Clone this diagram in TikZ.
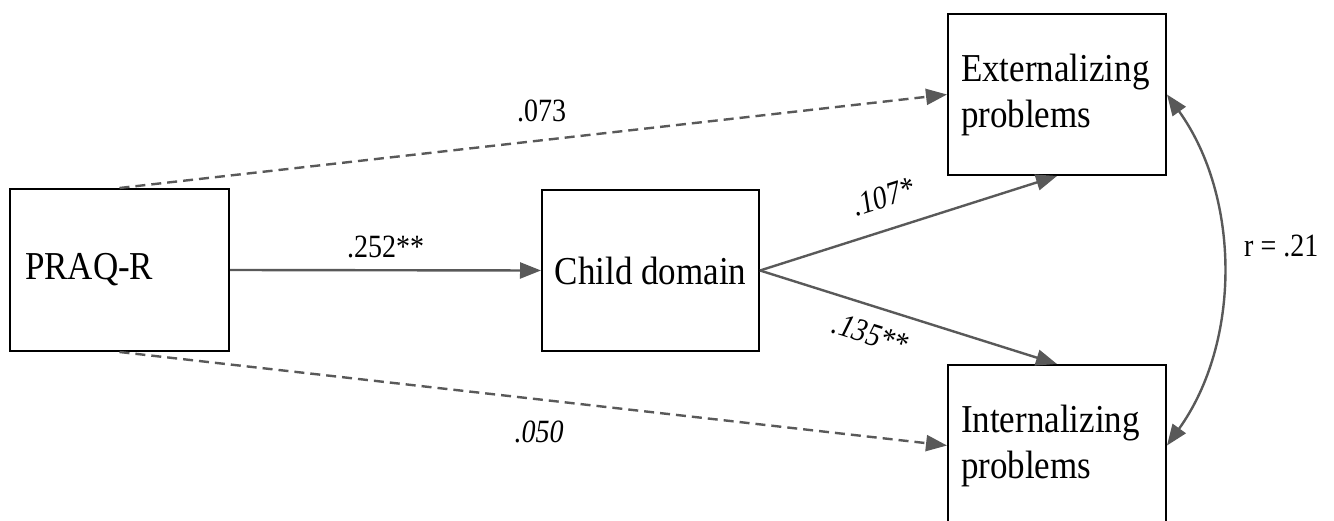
\documentclass[tikz,border=0pt]{standalone}
\usepackage{graphicx}
\usepackage{fontspec}
\setmainfont{Liberation Serif}
\usetikzlibrary{arrows.meta}
\definecolor{edgegray}{RGB}{89,89,89}
% slightly tall lettering for box texts and path labels
\newcommand\boxtxt[1]{\scalebox{1}[1.13]{#1}}
\newcommand\labtxt[1]{\scalebox{1}[1.16]{#1}}
\begin{document}
\begin{tikzpicture}[x=1pt,y=-1pt,
  var/.style={draw=black, line width=2pt, minimum width=218pt, minimum height=161pt,
    inner ysep=0pt, font=\fontsize{35}{46}\selectfont},
  leftvar/.style={var, align=left},
  tip/.tip={Triangle[length=21pt,width=16pt]},
  conn/.style={draw=edgegray, line width=2.4pt, -tip},
  dashconn/.style={conn, dash pattern=on 10pt off 6pt},
  lab/.style={inner sep=0pt, font=\fontsize{28}{34}\selectfont},
  itlab/.style={lab, font=\fontsize{28}{34}\selectfont\itshape}
]
\useasboundingbox (0,0) rectangle (1334,521);

% variables
\node[leftvar, text width=189pt, inner xsep=15pt, minimum height=162pt] (praq) at (119.5,270) {\boxtxt{PRAQ-R}};
\node[var, minimum width=217pt] (child) at (650.5,270.5) {\boxtxt{Child domain}};
\node[leftvar, text width=192pt, inner xsep=13pt] (ext) at (1057,94.5) {\boxtxt{Externalizing}\\\boxtxt{problems}};
\node[leftvar, text width=192pt, inner xsep=13pt] (int) at (1057,445.5) {\boxtxt{Internalizing}\\\boxtxt{problems}};

% paths
\draw[conn] (praq.east) -- node[lab, anchor=base, yshift=13pt] {\labtxt{.252**}} (child.west);
\draw[dashconn] (praq.north) -- node[lab, pos=0.51, anchor=base, yshift=19pt] {\labtxt{.073}} (ext.west);
\draw[dashconn] (praq.south) -- node[itlab, pos=0.507, anchor=base, yshift=-43pt] {\labtxt{.050}} (int.west);
\draw[conn] (child.east) -- node[itlab, pos=0.45, sloped, anchor=base, yshift=22pt] {\labtxt{.107*}} (ext.south);
\draw[conn] (child.east) -- node[itlab, pos=0.40, sloped, anchor=base, yshift=-38pt] {\labtxt{.135**}} (int.north);

% residual correlation
\draw[conn, tip-tip] (ext.east) .. controls +(74,103) and +(74,-103) .. (int.east)
  node[lab, pos=0.5, anchor=base west, xshift=20.5pt, yshift=13pt] {\labtxt{r = .21}};
\end{tikzpicture}
\end{document}
